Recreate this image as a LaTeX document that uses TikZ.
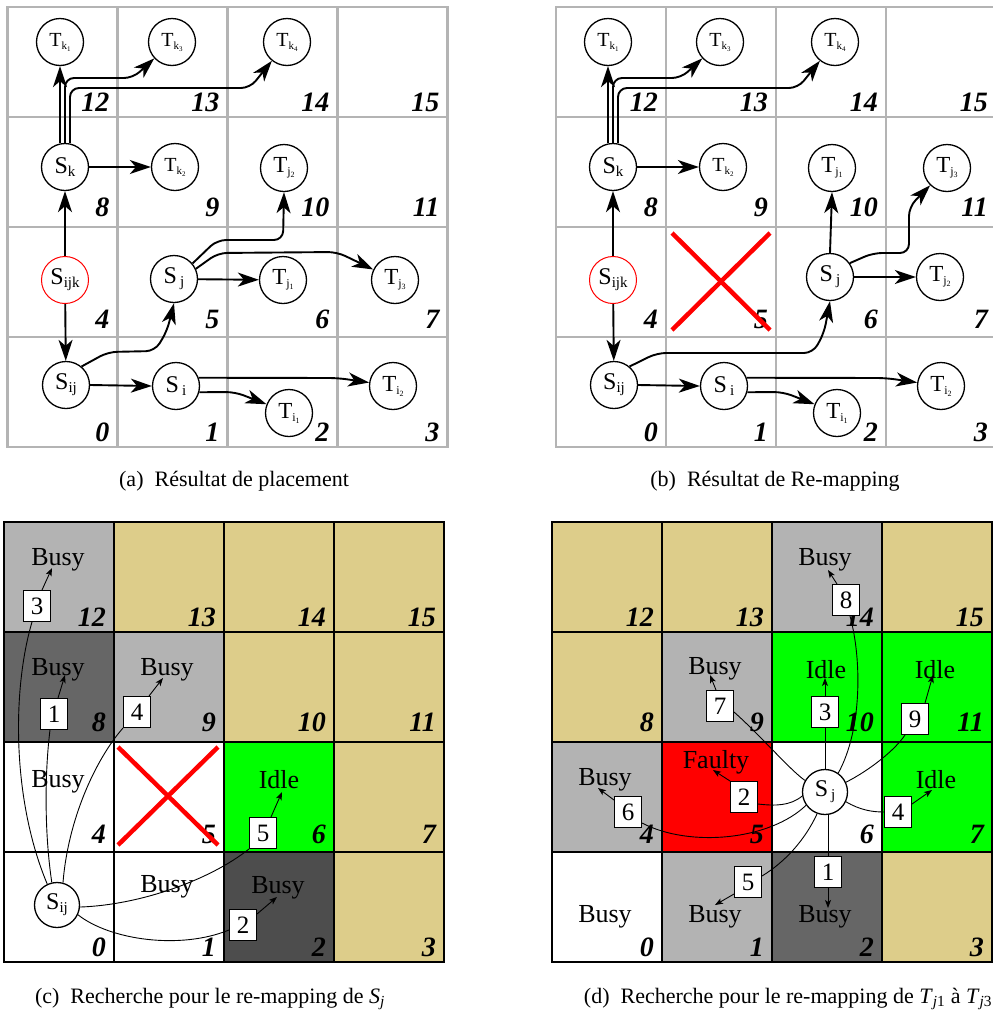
\documentclass[tikz,border=0pt]{standalone}
\usepackage{fontspec}
\setmainfont{Liberation Serif}
\usetikzlibrary{arrows.meta}
\definecolor{tanc}{RGB}{221,205,138}
\definecolor{lgray}{RGB}{179,179,179}
\definecolor{dgray}{RGB}{102,102,102}
\definecolor{ddgray}{RGB}{77,77,77}
\definecolor{gridg}{RGB}{180,180,180}
\definecolor{bgreen}{RGB}{0,255,0}
\definecolor{bred}{RGB}{255,0,0}

\newcommand\Sn[1]{\fontsize{24}{24}\selectfont S\raisebox{-3pt}{\fontsize{15}{15}\selectfont #1}}
\newcommand\Tn[2]{\fontsize{23}{23}\selectfont T\raisebox{-3pt}{\fontsize{12}{12}\selectfont #1\raisebox{-2pt}{\fontsize{8}{8}\selectfont #2}}}
\newcommand\Tk[2]{\fontsize{20}{20}\selectfont T\raisebox{-3pt}{\fontsize{11}{11}\selectfont #1\raisebox{-2pt}{\fontsize{7}{7}\selectfont #2}}}

\newcommand\gridlines[3]{%
  \foreach \i in {0,...,4} {
    \draw[#3] ({#1+110*\i},#2) -- ({#1+110*\i},{#2+440});
    \draw[#3] (#1,{#2+110*\i}) -- ({#1+440},{#2+110*\i});
  }}
\newcommand\cellnums[2]{%
  \foreach \n in {0,...,15} {
    \pgfmathtruncatemacro\cc{mod(\n,4)}
    \pgfmathtruncatemacro\rr{3-floor(\n/4)}
    \pgfmathsetmacro\dy{{6,9,10.5,5.5}[floor(\n/4)]}
    \node[cellnum] at ({#1+110*\cc+110-8},{#2+110*\rr+110-\dy}) {\n};
  }}
\newcommand\fillcell[4]{%
  \pgfmathtruncatemacro\cc{mod(#3,4)}
  \pgfmathtruncatemacro\rr{3-floor(#3/4)}
  \fill[#4] ({#1+110*\cc},{#2+110*\rr}) rectangle ++(110,110);}

\begin{document}
\begin{tikzpicture}[x=1pt,y=-1pt,
  nd/.style={circle, draw, line width=1.3pt, minimum size=47pt, inner sep=0pt, fill=white},
  ndc/.style={nd, minimum size=45pt},
  thk/.style={line width=1.9pt, rounded corners=9pt, -{Stealth[length=21pt,width=14pt,inset=6pt]}},
  thn/.style={line width=0.9pt},
  arrtip/.style={line width=0.9pt, -{Stealth[length=8pt,width=6pt,inset=2pt]}},
  numbox/.style={draw, fill=white, line width=1pt, minimum width=27pt, minimum height=31pt, inner sep=0pt, font=\fontsize{25}{25}\selectfont},
  cellnum/.style={anchor=base east, inner sep=0pt, font=\fontsize{28}{28}\selectfont\bfseries\itshape},
  stlabel/.style={anchor=base, inner sep=0pt, font=\fontsize{26}{26}\selectfont},
  captxt/.style={anchor=base, inner sep=0pt, font=\fontsize{22}{22}\selectfont},
  redx/.style={bred, line width=4.5pt},
  gl/.style={gridg, line width=2.6pt, line cap=rect},
  bl/.style={black, line width=2.6pt, line cap=rect}]
\useasboundingbox (0,0) rectangle (993,1010);
\clip (0,0) rectangle (993,1010);

%%%%%%%%%%%%%%%% (a)
\gridlines{7.5}{7}{gl}
\cellnums{7.5}{7}
\node[nd] (aTk1) at (60,42) {\Tk{k}{1}};
\node[nd] (aTk3) at (172,42) {\Tk{k}{3}};
\node[nd] (aTk4) at (287,42) {\Tk{k}{4}};
\node[nd] (aSk) at (65,167) {\Sn{k}};
\node[nd] (aTk2) at (175,167) {\Tk{k}{2}};
\node[nd] (aTj2) at (284,168) {\Tn{j}{2}};
\node[nd, draw=bred, line width=1pt] (aSijk) at (65,280) {\Sn{ijk}};
\node[nd] (aSj) at (174,279) {\Sn{\hspace{3pt}j}};
\node[nd] (aTj1) at (283,280) {\Tn{j}{1}};
\node[nd] (aTj3) at (395,280) {\Tn{j}{3}};
\node[nd] (aSij) at (66,385) {\Sn{ij}};
\node[nd] (aSi) at (176,386) {\Sn{\hspace{3pt}i}};
\node[nd] (aTi1) at (289,413) {\Tn{i}{1}};
\node[nd] (aTi2) at (393,386) {\Tn{i}{2}};

\draw[thk] (aSijk) -- (aSk);
\draw[thk] (aSijk) -- (aSij);
\draw[thk] ([xshift=-5pt]aSk.north) -- (aTk1.south);
\draw[thk] (aSk.north) -- (65,78) -- (133,78) -- (aTk3);
\draw[thk] ([xshift=5pt]aSk.north) -- (70,88) -- (250,88) -- (aTk4);
\draw[thk] (aSk) -- (aTk2);
\draw[thk] (aSij.east) -- (aSi.west);
\draw[thk] (aSij.50) -- (108,352) -- (155,351) -- (167,331) -- (aSj.south);
\draw[thk] (aSj) -- (aTj1);
\draw[thk] (aSj.40) -- (217,240) -- (283,240) -- (aTj2.south);
\draw[thk] (aSj.25) -- (218,253) -- (337,252) -- (aTj3);
\draw[thk] (aSi.-15) -- (235,392) -- (aTi1);
\draw[thk] (aSi.20) -- (338,378) -- (aTi2);

%%%%%%%%%%%%%%%% (b)
\gridlines{556}{7}{gl}
\cellnums{556}{7}
\draw[redx] (672,233) -- (770,330);
\draw[redx] (672,330) -- (770,233);
\node[nd] (bTk1) at (608,42) {\Tk{k}{1}};
\node[nd] (bTk3) at (720,42) {\Tk{k}{3}};
\node[nd] (bTk4) at (835,42) {\Tk{k}{4}};
\node[nd] (bSk) at (613,167) {\Sn{k}};
\node[nd] (bTk2) at (723,167) {\Tk{k}{2}};
\node[nd] (bTj1) at (832,168) {\Tn{j}{1}};
\node[nd] (bTj3) at (947,168) {\Tn{j}{3}};
\node[nd, draw=bred, line width=1pt] (bSijk) at (613,280) {\Sn{ijk}};
\node[nd] (bSj) at (830,277) {\Sn{\hspace{3pt}j}};
\node[nd] (bTj2) at (940,277) {\Tn{j}{2}};
\node[nd] (bSij) at (614,385) {\Sn{ij}};
\node[nd] (bSi) at (724,386) {\Sn{\hspace{3pt}i}};
\node[nd] (bTi1) at (837,413) {\Tn{i}{1}};
\node[nd] (bTi2) at (941,386) {\Tn{i}{2}};

\draw[thk] (bSijk) -- (bSk);
\draw[thk] (bSijk) -- (bSij);
\draw[thk] ([xshift=-5pt]bSk.north) -- (bTk1.south);
\draw[thk] (bSk.north) -- (613,78) -- (681,78) -- (bTk3);
\draw[thk] ([xshift=5pt]bSk.north) -- (618,88) -- (798,88) -- (bTk4);
\draw[thk] (bSk) -- (bTk2);
\draw[thk] (bSij.east) -- (bSi.west);
\draw[thk] (bSij.50) -- (657,353) -- (813,353) -- (824,333) -- (bSj.south);
\draw[thk] (bSj.north) -- (bTj1.south);
\draw[thk] (bSj.35) -- (873,253) -- (909,253) -- (909,207) -- (bTj3);
\draw[thk] (bSj) -- (bTj2);
\draw[thk] (bSi.-15) -- (783,392) -- (bTi1);
\draw[thk] (bSi.20) -- (886,378) -- (bTi2);

%%%%%%%%%%%%%%%% (c)
\foreach \n/\col in {12/lgray,13/tanc,14/tanc,15/tanc,8/dgray,9/lgray,10/tanc,11/tanc,
  4/white,5/white,6/bgreen,7/tanc,0/white,1/white,2/ddgray,3/tanc} {\fillcell{4}{522}{\n}{\col}}
\gridlines{4}{522}{bl}
\cellnums{4}{522}
\draw[redx] (118,747) -- (218,845);
\draw[redx] (118,845) -- (218,747);
\node[stlabel] (cB12) at (58,565) {Busy};
\node[stlabel] (cB8) at (58,675) {Busy};
\node[stlabel] (cB9) at (167,675) {Busy};
\node[stlabel] (cB4) at (58,787) {Busy};
\node[stlabel] (cI6) at (279,788) {Idle};
\node[stlabel] (cB1) at (167,892) {Busy};
\node[stlabel] (cB2) at (278,893) {Busy};
\node[ndc] (cSij) at (57,905) {\Sn{ij}};
\node[numbox] (c3) at (37,606) {3};
\node[numbox] (c1) at (54,714) {1};
\node[numbox] (c4) at (137,712) {4};
\node[numbox] (c5) at (263,833) {5};
\node[numbox] (c2) at (243,925) {2};
\coordinate (c3t) at (52,568);
\coordinate (c1t) at (65,675);
\coordinate (c4t) at (163,678);
\coordinate (c5t) at (282,792);
\coordinate (c2t) at (277,897);
\draw[thn] (cSij.115) .. controls (12,800) and (12,690) .. ([xshift=-5pt]c3.south);
\draw[thn] (cSij.103) .. controls (44,830) and (45,770) .. ([xshift=-4pt]c1.south);
\draw[thn] (cSij.75) .. controls (68,820) and (95,760) .. (c4.south west);
\draw[thn] (cSij.-5) .. controls (140,905) and (210,880) .. (c5.south west);
\draw[thn] (cSij.-25) .. controls (110,940) and (180,950) .. ([yshift=-5pt]c2.west);
\draw[arrtip] ([xshift=5pt]c3.north) -- (c3t);
\draw[arrtip] ([xshift=4pt]c1.north) -- (c1t);
\draw[arrtip] ([xshift=-2pt]c4.north east) -- (c4t);
\draw[arrtip] ([xshift=8pt]c5.north) -- (c5t);
\draw[arrtip] ([yshift=-5pt]c2.north east) -- (c2t);

%%%%%%%%%%%%%%%% (d)
\foreach \n/\col in {12/tanc,13/tanc,14/lgray,15/tanc,8/tanc,9/lgray,10/bgreen,11/bgreen,
  4/lgray,5/bred,6/white,7/bgreen,0/white,1/lgray,2/dgray,3/tanc} {\fillcell{552}{522}{\n}{\col}}
\gridlines{552}{522}{bl}
\cellnums{552}{522}
\node[stlabel] (dB14) at (825,565) {Busy};
\node[stlabel] (dB9) at (715,674) {Busy};
\node[stlabel] (dI10) at (826,678) {Idle};
\node[stlabel] (dI11) at (935,678) {Idle};
\node[stlabel] (dB4) at (605,785) {Busy};
\node[stlabel] (dF5) at (716,768) {Faulty};
\node[stlabel] (dI7) at (936,788) {Idle};
\node[stlabel] (dB0) at (605,922) {Busy};
\node[stlabel] (dB1) at (715,922) {Busy};
\node[stlabel] (dB2) at (825,922) {Busy};
\node[ndc] (dSj) at (825,792) {\Sn{\hspace{3pt}j}};
\node[numbox] (d8) at (846,600) {8};
\node[numbox] (d7) at (720,706) {7};
\node[numbox] (d3) at (825,712) {3};
\node[numbox] (d9) at (915,719) {9};
\node[numbox] (d2) at (744,797) {2};
\node[numbox] (d6) at (628,812) {6};
\node[numbox] (d4) at (898,812) {4};
\node[numbox] (d5) at (748,882) {5};
\node[numbox] (d1) at (828,872) {1};
\coordinate (d1t) at (828,908);
\coordinate (d2t) at (713,770);
\coordinate (d3t) at (825,678);
\coordinate (d4t) at (932,790);
\coordinate (d5t) at (715,905);
\coordinate (d6t) at (598,788);
\coordinate (d7t) at (710,675);
\coordinate (d8t) at (828,570);
\coordinate (d9t) at (933,675);
\draw[thn] ([xshift=3pt]dSj.south) -- (d1.north);
\draw[thn] (dSj.190) .. controls (790,806) and (775,806) .. ([yshift=-7pt]d2.east);
\draw[thn] (dSj.north) -- (d3.south);
\draw[thn] (dSj.-25) .. controls (860,810) and (872,812) .. (d4.west);
\draw[thn] (dSj.-110) .. controls (805,840) and (785,862) .. ([yshift=6pt]d5.east);
\draw[thn] (dSj.-145) .. controls (770,840) and (690,848) .. ([yshift=-11pt]d6.east);
\draw[thn] (dSj.150) .. controls (790,770) and (760,735) .. ([yshift=-6pt]d7.east);
\draw[thn] (dSj.55) .. controls (862,730) and (862,660) .. ([xshift=4pt]d8.south);
\draw[thn] (dSj.25) .. controls (870,770) and (895,750) .. ([xshift=-10pt]d9.south);
\draw[arrtip] (d1.south) -- (d1t);
\draw[arrtip] (d2.north west) -- (d2t);
\draw[arrtip] (d3.north) -- (d3t);
\draw[arrtip] ([yshift=8pt]d4.east) -- (d4t);
\draw[arrtip] ([yshift=-12pt]d5.west) -- (d5t);
\draw[arrtip] ([yshift=12pt]d6.west) -- (d6t);
\draw[arrtip] ([xshift=-4pt]d7.north) -- (d7t);
\draw[arrtip] ([xshift=-9pt]d8.north) -- (d8t);
\draw[arrtip] ([xshift=10pt]d9.north) -- (d9t);

%%%%%%%%%%%%%%%% captions
\node[captxt] (capa) at (234,486) {(a)\enspace Résultat de placement};
\node[captxt] (capb) at (775,486) {(b)\enspace Résultat de Re-mapping};
\node[captxt] (capc) at (210,1003) {(c)\enspace Recherche pour le re-mapping de \textit{S}\textsubscript{\textit{j}}};
\node[captxt] (capd) at (788,1003) {(d)\enspace Recherche pour le re-mapping de \textit{T}\textsubscript{\textit{j}1} à \textit{T}\textsubscript{\textit{j}3}};
\end{tikzpicture}
\end{document}
